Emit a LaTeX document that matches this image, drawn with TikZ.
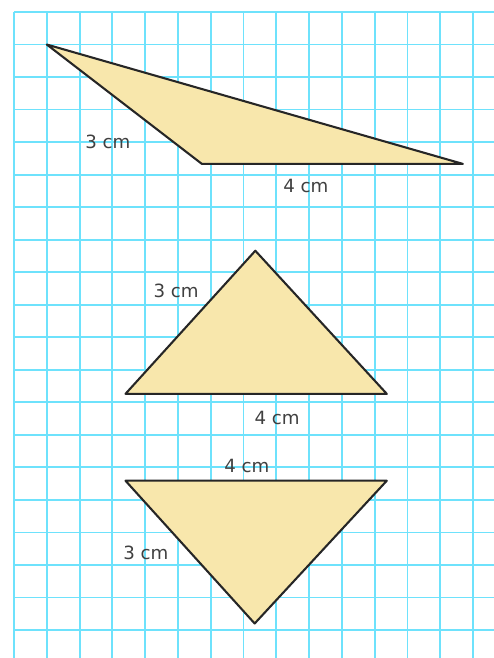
\documentclass[tikz,border=0pt]{standalone}
\usepackage{fontspec}
\setsansfont{DejaVu Sans}
\usepackage{tikz}
\definecolor{gridblue}{RGB}{110,226,252}
\definecolor{trifill}{RGB}{248,231,172}

\begin{document}
\begin{tikzpicture}[x=0.5cm,y=-0.496cm,
  gridline/.style={draw=gridblue,line width=0.8pt},
  tri/.style={draw=black!85,fill=trifill,line width=0.9pt,line join=round},
  len/.style={font=\sffamily\fontsize{7.9}{9}\selectfont,text=black!75,inner sep=0pt}]
\useasboundingbox (0,0) rectangle (15.06,20.23);
\fill[white] (0,0) rectangle (15.06,20.23);
% squared paper
\foreach \i in {0,...,14}
  \draw[gridline] (0.427+\i,0.369) -- (0.427+\i,20.23);
\foreach \j in {0,...,19}
  \draw[gridline] (0.427,0.369+\j) -- (15.06,0.369+\j);
% the three triangles
\begin{scope}[shift={(0.427,0.369)}]
\coordinate (t1a) at (1,1);
\coordinate (t1b) at (5.73,4.67);
\coordinate (t1c) at (13.69,4.67);
\draw[tri] (t1a) -- (t1b) -- (t1c) -- cycle;
\coordinate (t2a) at (7.36,7.34);
\coordinate (t2b) at (3.40,11.74);
\coordinate (t2c) at (11.37,11.74);
\draw[tri] (t2a) -- (t2b) -- (t2c) -- cycle;
\coordinate (t3a) at (3.40,14.41);
\coordinate (t3b) at (11.37,14.41);
\coordinate (t3c) at (7.34,18.80);
\draw[tri] (t3a) -- (t3b) -- (t3c) -- cycle;
\end{scope}
% side lengths
\node[len] (l1a) at (3.29,4.37) {3 cm};
\node[len] (l1b) at (9.33,5.72) {4 cm};
\node[len] (l2a) at (5.37,8.95) {3 cm};
\node[len] (l2b) at (8.45,12.85) {4 cm};
\node[len] (l3a) at (7.53,14.33) {4 cm};
\node[len] (l3b) at (4.45,17.00) {3 cm};
\end{tikzpicture}
\end{document}
